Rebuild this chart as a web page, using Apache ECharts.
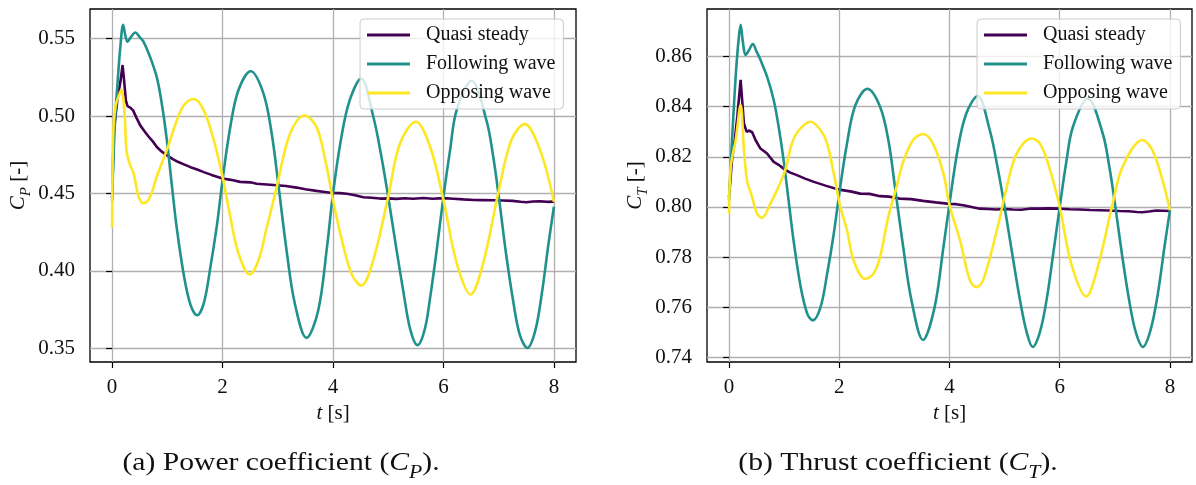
<!DOCTYPE html>
<html>
<head>
<meta charset="utf-8">
<script src="https://cdn.jsdelivr.net/npm/echarts@6/dist/echarts.min.js"></script>
<style>
  html, body { margin: 0; padding: 0; background: #fff; }
  #chart { width: 1196px; height: 485px; }
</style>
</head>
<body>
<div id="chart"></div>
<script>
// series names
const seriesNames = ['Quasi steady', 'Following wave', 'Opposing wave'];

// tick labels
const xTicks = [0, 2, 4, 6, 8];
const cpTicks = [0.35, 0.40, 0.45, 0.50, 0.55];
const ctTicks = [0.74, 0.76, 0.78, 0.80, 0.82, 0.84, 0.86];

// (a) power coefficient
const tQuasiCP = [0, 0.03, 0.1, 0.15, 0.19, 0.22, 0.25, 0.28, 0.33, 0.38, 0.44, 0.51, 0.58, 0.66, 0.74, 0.81, 0.9, 0.99, 1.1, 1.2, 1.3, 1.42, 1.54, 1.66, 1.8, 2.0, 2.15, 2.32, 2.5, 2.62, 2.8, 2.98, 3.15, 3.34, 3.5, 3.7, 3.85, 4.0, 4.12, 4.25, 4.4, 4.55, 4.7, 4.85, 5.0, 5.15, 5.3, 5.45, 5.64, 5.8, 6.0, 6.18, 6.36, 6.55, 6.72, 6.9, 7.08, 7.25, 7.4, 7.5, 7.62, 7.75, 7.88, 8.0];
const quasiCP = [0.447, 0.49, 0.512, 0.522, 0.533, 0.522, 0.510, 0.5065, 0.5055, 0.5037, 0.499, 0.494, 0.4905, 0.4868, 0.4835, 0.480, 0.477, 0.4748, 0.4722, 0.4703, 0.4688, 0.467, 0.4655, 0.4638, 0.462, 0.4597, 0.4588, 0.4575, 0.4572, 0.4563, 0.4558, 0.4553, 0.4548, 0.4538, 0.4527, 0.4517, 0.451, 0.4503, 0.4502, 0.4498, 0.4488, 0.4476, 0.4472, 0.4467, 0.4468, 0.4465, 0.4469, 0.4466, 0.4471, 0.4466, 0.447, 0.4466, 0.4462, 0.4458, 0.4457, 0.4456, 0.4455, 0.4452, 0.4446, 0.4443, 0.4448, 0.4449, 0.4446, 0.4447];

const tFollowCP = [0, 0.05, 0.1, 0.15, 0.2, 0.24, 0.28, 0.34, 0.42, 0.5, 0.57, 0.69, 0.81, 0.9, 0.99, 1.08, 1.17, 1.3, 1.42, 1.54, 1.66, 1.78, 1.9, 2.0, 2.14, 2.29, 2.51, 2.74, 2.89, 3.01, 3.16, 3.31, 3.52, 3.73, 3.89, 4.0, 4.15, 4.3, 4.51, 4.73, 4.87, 5.0, 5.14, 5.28, 5.4, 5.53, 5.66, 5.76, 5.88, 6.0, 6.12, 6.24, 6.51, 6.78, 6.9, 7.01, 7.13, 7.26, 7.38, 7.52, 7.66, 7.78, 7.9, 8.0];
const followCP = [0.445, 0.495, 0.522, 0.545, 0.559, 0.552, 0.548, 0.551, 0.554, 0.551, 0.548, 0.538, 0.525, 0.508, 0.485, 0.456, 0.428, 0.397, 0.378, 0.3713, 0.379, 0.4024, 0.430, 0.4586, 0.493, 0.517, 0.529, 0.5147, 0.4888, 0.456, 0.413, 0.3787, 0.3567, 0.374, 0.415, 0.45, 0.486, 0.510, 0.5243, 0.4996, 0.475, 0.4478, 0.416, 0.3853, 0.362, 0.352, 0.362, 0.383, 0.414, 0.448, 0.478, 0.504, 0.5228, 0.497, 0.474, 0.4457, 0.412, 0.381, 0.359, 0.3502, 0.361, 0.385, 0.417, 0.4414];

const tOpposeCP = [0, 0.02, 0.06, 0.12, 0.17, 0.2, 0.23, 0.26, 0.32, 0.39, 0.48, 0.57, 0.69, 0.81, 0.99, 1.17, 1.3, 1.48, 1.66, 1.84, 2.0, 2.14, 2.29, 2.49, 2.65, 2.8, 2.98, 3.16, 3.31, 3.48, 3.7, 3.86, 4.0, 4.19, 4.35, 4.51, 4.73, 5.0, 5.21, 5.5, 5.76, 6.0, 6.24, 6.49, 6.72, 6.99, 7.23, 7.47, 7.75, 8.0];
const opposeCP = [0.428, 0.489, 0.506, 0.513, 0.517, 0.512, 0.4996, 0.478, 0.469, 0.463, 0.448, 0.4437, 0.448, 0.461, 0.478, 0.497, 0.507, 0.511, 0.5037, 0.4845, 0.461, 0.435, 0.4112, 0.3976, 0.4067, 0.428, 0.454, 0.482, 0.495, 0.5004, 0.493, 0.4716, 0.4457, 0.4155, 0.397, 0.3905, 0.407, 0.448, 0.482, 0.4963, 0.480, 0.4457, 0.405, 0.3847, 0.405, 0.45, 0.4845, 0.4948, 0.478, 0.4446];

// (b) thrust coefficient
const tQuasiCT = [0, 0.05, 0.1, 0.15, 0.21, 0.24, 0.27, 0.32, 0.36, 0.42, 0.48, 0.57, 0.69, 0.81, 0.9, 0.99, 1.1, 1.23, 1.38, 1.54, 1.75, 2.0, 2.2, 2.38, 2.55, 2.74, 2.9, 3.1, 3.3, 3.52, 3.75, 4.0, 4.12, 4.25, 4.4, 4.55, 4.7, 4.85, 5.0, 5.15, 5.3, 5.45, 5.64, 5.8, 6.0, 6.18, 6.36, 6.55, 6.72, 6.9, 7.08, 7.25, 7.4, 7.5, 7.62, 7.75, 7.88, 8.0];
const quasiCT = [0.804, 0.818, 0.826, 0.836, 0.8507, 0.842, 0.8333, 0.830, 0.8305, 0.8298, 0.8267, 0.8233, 0.8213, 0.818, 0.8168, 0.8153, 0.8138, 0.8127, 0.8113, 0.810, 0.8085, 0.8069, 0.8062, 0.8053, 0.8052, 0.8043, 0.8041, 0.8033, 0.8031, 0.8024, 0.8018, 0.8012, 0.8011, 0.8007, 0.800, 0.7993, 0.7992, 0.799, 0.7992, 0.799, 0.7989, 0.7993, 0.7993, 0.7994, 0.7993, 0.7991, 0.799, 0.7988, 0.7987, 0.7986, 0.7984, 0.7983, 0.798, 0.7979, 0.7982, 0.7986, 0.7985, 0.7984];

const tFollowCT = [0, 0.06, 0.12, 0.17, 0.21, 0.25, 0.3, 0.36, 0.43, 0.5, 0.57, 0.69, 0.81, 0.9, 0.99, 1.08, 1.17, 1.3, 1.42, 1.52, 1.66, 1.78, 1.9, 2.0, 2.14, 2.29, 2.51, 2.74, 2.89, 3.01, 3.16, 3.31, 3.52, 3.73, 3.89, 4.0, 4.15, 4.3, 4.51, 4.73, 4.87, 5.0, 5.14, 5.28, 5.4, 5.51, 5.64, 5.76, 5.88, 6.0, 6.12, 6.24, 6.51, 6.78, 6.9, 7.01, 7.13, 7.26, 7.38, 7.51, 7.65, 7.78, 7.9, 8.0];
const followCT = [0.8027, 0.829, 0.852, 0.866, 0.8727, 0.866, 0.8607, 0.8625, 0.865, 0.862, 0.8587, 0.852, 0.8427, 0.832, 0.8187, 0.8027, 0.7867, 0.768, 0.7573, 0.7547, 0.760, 0.7733, 0.7893, 0.8053, 0.8253, 0.8405, 0.8471, 0.840, 0.8267, 0.808, 0.784, 0.7627, 0.7469, 0.760, 0.784, 0.8013, 0.823, 0.837, 0.8443, 0.8307, 0.816, 0.800, 0.781, 0.7627, 0.750, 0.7441, 0.750, 0.7627, 0.781, 0.800, 0.818, 0.832, 0.8433, 0.8293, 0.816, 0.800, 0.781, 0.7627, 0.750, 0.7441, 0.751, 0.7653, 0.784, 0.7987];

const tOpposeCT = [0, 0.03, 0.12, 0.21, 0.27, 0.33, 0.4, 0.51, 0.6, 0.75, 0.87, 1.02, 1.14, 1.27, 1.48, 1.66, 1.78, 1.9, 2.02, 2.14, 2.26, 2.47, 2.62, 2.74, 2.89, 3.04, 3.16, 3.34, 3.52, 3.7, 3.89, 4.0, 4.19, 4.37, 4.49, 4.61, 4.86, 5.04, 5.22, 5.49, 5.64, 5.79, 6.0, 6.21, 6.48, 6.69, 6.96, 7.14, 7.5, 7.71, 8.0];
const opposeCT = [0.7973, 0.816, 0.8267, 0.8407, 0.8227, 0.810, 0.8053, 0.7973, 0.7957, 0.8013, 0.8067, 0.8147, 0.8253, 0.8307, 0.834, 0.8307, 0.8253, 0.8133, 0.800, 0.7907, 0.7787, 0.7713, 0.7733, 0.780, 0.796, 0.808, 0.818, 0.8267, 0.8291, 0.8253, 0.8133, 0.8007, 0.7867, 0.7707, 0.768, 0.7707, 0.7907, 0.808, 0.8213, 0.8273, 0.8253, 0.8173, 0.800, 0.7773, 0.7643, 0.776, 0.8013, 0.816, 0.8267, 0.8213, 0.7987];

const colors = ['#440154', '#21918c', '#fde725'];
const FONT = '"Liberation Serif", "DejaVu Serif", serif';

function zip(t, v) {
  return t.map((x, i) => [x, v[i]]);
}

const richStyle = {
  i: { fontFamily: FONT, fontSize: 21, fontStyle: 'italic', color: '#111', padding: [0, 0, 5, 0] },
  s: { fontFamily: FONT, fontSize: 15, fontStyle: 'italic', color: '#111', verticalAlign: 'bottom' },
  n: { fontFamily: FONT, fontSize: 21, color: '#111', padding: [0, 0, 5, 0] }
};

function makeX(idx) {
  return {
    type: 'value', gridIndex: idx, min: -0.4, max: 8.4,
    axisLine: { show: false },
    axisTick: { show: true, customValues: xTicks, length: 6, lineStyle: { color: '#000', width: 1.2 } },
    axisLabel: { customValues: xTicks, margin: 15, fontFamily: FONT, fontSize: 21, color: '#111' },
    splitLine: { show: true, lineStyle: { color: '#b0b0b0', width: 1.3 } },
    name: '{i|t}{n| [s]}', nameLocation: 'middle', nameGap: 40,
    nameTextStyle: { rich: richStyle }
  };
}

function makeY(idx, lo, hi, ticks, sub) {
  return {
    type: 'value', gridIndex: idx, min: lo, max: hi,
    axisLine: { show: false },
    axisTick: { show: true, customValues: ticks, length: 6, lineStyle: { color: '#000', width: 1.2 } },
    axisLabel: { customValues: ticks, margin: 15, fontFamily: FONT, fontSize: 21, color: '#111',
      formatter: v => v.toFixed(2) },
    splitLine: { show: true, lineStyle: { color: '#b0b0b0', width: 1.3 } },
    name: '{i|C}{s|' + sub + '}{n| [-]}', nameLocation: 'middle', nameRotate: 90, nameGap: 56,
    nameTextStyle: { rich: richStyle }
  };
}

function makeSeries(idx, data) {
  return data.map((d, k) => ({
    name: seriesNames[k], type: 'line', xAxisIndex: idx, yAxisIndex: idx,
    data: d, showSymbol: false, symbol: 'none',
    smooth: k === 0 ? false : 0.35,
    color: colors[k],
    lineStyle: { width: 2.6, color: colors[k] }
  }));
}

function makeLegend(left) {
  return {
    orient: 'vertical', left: left, top: 19,
    data: seriesNames,
    icon: 'rect', itemWidth: 43, itemHeight: 3, itemGap: 9,
    padding: [6, 8, 6, 7],
    backgroundColor: 'rgba(255,255,255,0.8)', borderColor: '#cccccc', borderWidth: 1, borderRadius: 4,
    textStyle: { fontFamily: FONT, fontSize: 20, color: '#111', padding: [0, 0, 0, 11] }
  };
}

function caption(x, label, sub) {
  return {
    type: 'text', x: x, y: 466, scaleX: 1.14,
    style: {
      text: '{n|' + label + ' (}{i|C}{s|' + sub + '}{n|).}',
      align: 'center', verticalAlign: 'middle',
      rich: {
        n: { fontFamily: FONT, fontSize: 26, fill: '#111', padding: [0, 0, 6, 0] },
        i: { fontFamily: FONT, fontSize: 26, fontStyle: 'italic', fill: '#111', padding: [0, 0, 6, 0] },
        s: { fontFamily: FONT, fontSize: 19, fontStyle: 'italic', fill: '#111', verticalAlign: 'bottom' }
      }
    }
  };
}

const chart = echarts.init(document.getElementById('chart'));
chart.setOption({
  animation: false,
  backgroundColor: '#fff',
  grid: [
    { left: 90, top: 9, width: 486, height: 353, show: true, borderColor: '#000', borderWidth: 1.3 },
    { left: 707, top: 9, width: 485, height: 353, show: true, borderColor: '#000', borderWidth: 1.3 }
  ],
  xAxis: [makeX(0), makeX(1)],
  yAxis: [
    makeY(0, 0.3411, 0.5692, cpTicks, 'P'),
    makeY(1, 0.7381, 0.879, ctTicks, 'T')
  ],
  legend: [makeLegend(360), makeLegend(977)],
  series: [
    ...makeSeries(0, [zip(tQuasiCP, quasiCP), zip(tFollowCP, followCP), zip(tOpposeCP, opposeCP)]),
    ...makeSeries(1, [zip(tQuasiCT, quasiCT), zip(tFollowCT, followCT), zip(tOpposeCT, opposeCT)])
  ],
  graphic: [
    caption(281, '(a) Power coefficient', 'P'),
    caption(898, '(b) Thrust coefficient', 'T')
  ]
});
</script>
</body>
</html>
